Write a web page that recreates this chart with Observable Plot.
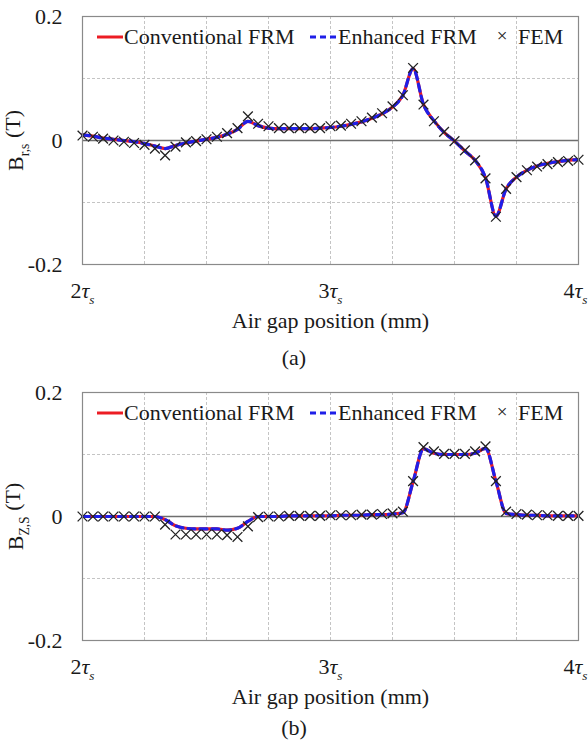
<!DOCTYPE html>
<html><head><meta charset="utf-8">
<script src="https://cdn.jsdelivr.net/npm/d3@7"></script>
<script src="https://cdn.jsdelivr.net/npm/@observablehq/plot@0.6"></script>
<style>
body{margin:0;background:#fff;width:588px;height:740px;overflow:hidden;font-family:"Liberation Serif","Times New Roman",serif;color:#1a1a1a}
.panel{position:relative;width:588px;height:335px}
.cap{width:588px;text-align:center;font-size:22px;overflow:visible}
.legend{position:absolute;left:0;top:0;pointer-events:none}
</style></head><body>
<div class="panel" id="pa"></div>
<div class="cap" style="height:41px;line-height:46px">(a)</div>
<div class="panel" id="pb"></div>
<div class="cap" style="height:29px;line-height:34px">(b)</div>
<script>
// Air gap position in units of slot pitch tau_s
const pos = [2.000,2.042,2.083,2.125,2.167,2.208,2.250,2.292,2.333,2.375,
             2.417,2.458,2.500,2.542,2.583,2.625,2.667,2.708,2.750,2.792,
             2.833,2.875,2.917,2.958,3.000,3.042,3.083,3.125,3.167,3.208,
             3.250,3.292,3.333,3.375,3.417,3.458,3.500,3.542,3.583,3.625,
             3.667,3.708,3.750,3.792,3.833,3.875,3.917,3.958,4.000];

// (a) radial component B_r,s (T)
const femA  = [0.008,0.006,0.003,0.000,-0.002,-0.004,-0.007,-0.013,-0.024,-0.010,
               -0.003,-0.001,0.002,0.006,0.012,0.020,0.039,0.027,0.023,0.020,
               0.020,0.020,0.020,0.020,0.023,0.024,0.027,0.031,0.037,0.044,
               0.055,0.073,0.117,0.058,0.031,0.014,-0.001,-0.016,-0.032,-0.061,
               -0.123,-0.078,-0.059,-0.048,-0.042,-0.038,-0.035,-0.033,-0.031];
const convA = [0.009,0.007,0.004,0.002,0.000,-0.002,-0.005,-0.009,-0.013,-0.008,
               -0.004,-0.001,0.002,0.005,0.010,0.018,0.031,0.024,0.020,0.019,
               0.019,0.019,0.019,0.020,0.021,0.023,0.026,0.030,0.036,0.043,
               0.054,0.073,0.116,0.058,0.032,0.013,-0.001,-0.017,-0.032,-0.060,
               -0.122,-0.078,-0.059,-0.048,-0.041,-0.037,-0.034,-0.032,-0.031];
const enhA  = [0.009,0.007,0.004,0.002,0.000,-0.002,-0.005,-0.009,-0.013,-0.008,
               -0.004,-0.001,0.002,0.005,0.010,0.018,0.031,0.024,0.020,0.019,
               0.019,0.019,0.019,0.020,0.021,0.023,0.026,0.030,0.036,0.043,
               0.054,0.073,0.116,0.058,0.032,0.013,-0.001,-0.017,-0.032,-0.060,
               -0.122,-0.078,-0.059,-0.048,-0.041,-0.037,-0.034,-0.032,-0.031];

// (b) axial component B_z,s (T)
const femB  = [0,0,0,0,0,0,0,0,-0.013,-0.029,
               -0.029,-0.029,-0.029,-0.029,-0.030,-0.033,-0.016,-0.001,0,0,
               0.001,0.001,0.001,0.001,0.002,0.002,0.002,0.003,0.003,0.004,
               0.005,0.008,0.057,0.112,0.105,0.101,0.101,0.101,0.105,0.113,
               0.057,0.008,0.004,0.003,0.002,0.002,0.001,0.001,0.001];
const convB = [0,0,0,0,0,0,0,0,-0.005,-0.015,
               -0.019,-0.020,-0.020,-0.020,-0.022,-0.019,-0.008,0,0,0,
               0.001,0.001,0.001,0.001,0.001,0.002,0.002,0.002,0.003,0.003,
               0.004,0.006,0.056,0.109,0.102,0.100,0.100,0.100,0.102,0.110,
               0.057,0.005,0.003,0.002,0.002,0.001,0.001,0.001,0.001];
const enhB  = [0,0,0,0,0,0,0,0,-0.005,-0.015,
               -0.019,-0.020,-0.020,-0.020,-0.022,-0.019,-0.008,0,0,0,
               0.001,0.001,0.001,0.001,0.001,0.002,0.002,0.002,0.003,0.003,
               0.004,0.006,0.056,0.109,0.102,0.100,0.100,0.100,0.102,0.110,
               0.057,0.005,0.003,0.002,0.002,0.001,0.001,0.001,0.001];

const xTicks = [2, 3, 4];
const xTickLabels = ["2τs", "3τs", "4τs"];
const xGrid = [2.25, 2.5, 2.75, 3, 3.25, 3.5, 3.75];
const yTicks = [-0.2, 0, 0.2];
const yTickLabels = ["-0.2", "0", "0.2"];
const yGrid = [-0.1, 0.1];
const seriesNames = ["Conventional FRM", "Enhanced FRM", "FEM"];
const xLabel = "Air gap position (mm)";

const FONT = '"Liberation Serif","Times New Roman",serif';

function panel(el, fem, conv, enh, sub) {
  const data = pos.map((x, i) => ({x, fem: fem[i], conv: conv[i], enh: enh[i]}));
  const svg = Plot.plot({
    width: 588, height: 335,
    marginLeft: 82, marginRight: 10, marginTop: 16, marginBottom: 71,
    style: {fontFamily: FONT, fontSize: "22px", color: "#1a1a1a", background: "white", overflow: "visible"},
    x: {domain: [2, 4]},
    y: {domain: [-0.2, 0.2]},
    marks: [
      Plot.gridX(xGrid, {stroke: "#c4c4c4", strokeOpacity: 1, strokeDasharray: "3,2"}),
      Plot.gridY(yGrid, {stroke: "#c4c4c4", strokeOpacity: 1, strokeDasharray: "3,2"}),
      Plot.ruleY([0], {stroke: "#6e6e6e", strokeWidth: 1.6}),
      Plot.line(data, {x: "x", y: "conv", stroke: "#ec1c24", strokeWidth: 3.2, curve: "monotone-x"}),
      Plot.line(data, {x: "x", y: "enh", stroke: "#1f1fe8", strokeWidth: 3.2, strokeDasharray: "7,5", curve: "monotone-x"}),
      Plot.dot(data, {x: "x", y: "fem", symbol: "times", r: 4.5, stroke: "#222", strokeWidth: 1.3}),
      Plot.frame({stroke: "#8a8a8a", strokeWidth: 1.2}),
      Plot.axisX(xTicks, {tickSize: 0, tickPadding: 18, tickFormat: (d) => xTickLabels[xTicks.indexOf(d)],
        label: xLabel, labelAnchor: "center", labelArrow: "none", labelOffset: 63}),
      Plot.axisY(yTicks, {tickSize: 0, tickPadding: 20, tickFormat: (d) => yTickLabels[yTicks.indexOf(d)],
        label: "YLAB", labelAnchor: "center", labelArrow: "none", labelOffset: 75})
    ]
  });
  svg.querySelectorAll("text").forEach((t) => {
    const s = t.textContent;
    const m = s.match(/^(\d)τs$/);
    if (m) {
      t.innerHTML = `${m[1]}<tspan font-style="italic">τ</tspan><tspan font-style="italic" font-size="0.6em" dy="0.45em">s</tspan>`;
      if (m[1] === "4") { t.setAttribute("text-anchor", "end"); t.setAttribute("dx", "9"); }
    } else if (s === "YLAB") {
      t.innerHTML = `B<tspan font-size="0.62em" dy="0.4em">${sub}</tspan><tspan dy="-0.4em"> (T)</tspan>`;
    }
  });
  el.appendChild(svg);
  const leg = document.createElementNS("http://www.w3.org/2000/svg", "svg");
  leg.setAttribute("class", "legend");
  leg.setAttribute("width", 588);
  leg.setAttribute("height", 60);
  leg.innerHTML = `
    <g font-family='${FONT}' font-size="22" fill="#1a1a1a">
      <line x1="97" x2="123" y1="37" y2="37" stroke="#ec1c24" stroke-width="3"/>
      <text x="124" y="44">${seriesNames[0]}</text>
      <line x1="310" x2="337" y1="37" y2="37" stroke="#1f1fe8" stroke-width="3" stroke-dasharray="6,4"/>
      <text x="338" y="44">${seriesNames[1]}</text>
      <text x="502" y="42" text-anchor="middle" font-size="19">×</text>
      <text x="518" y="44">${seriesNames[2]}</text>
    </g>`;
  el.appendChild(leg);
}

panel(document.getElementById("pa"), femA, convA, enhA, "r,s");
panel(document.getElementById("pb"), femB, convB, enhB, "Z,S");
</script></body></html>
